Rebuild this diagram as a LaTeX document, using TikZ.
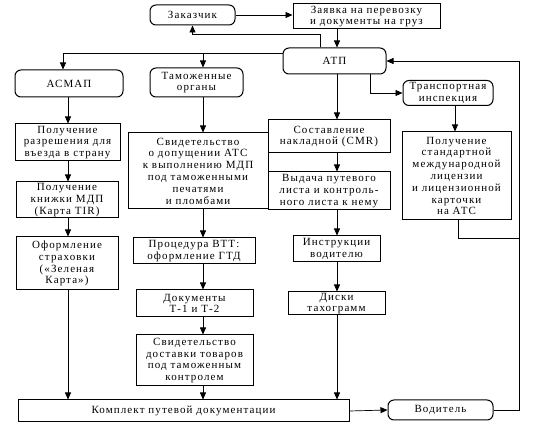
\documentclass[tikz,border=0pt]{standalone}
\usepackage{fontspec}
\setmainfont{Liberation Serif}[LetterSpace=10]
\usetikzlibrary{arrows.meta}
\begin{document}
\begin{tikzpicture}[x=1pt,y=-1pt,
  box/.style={draw, line width=1pt, align=center, inner sep=0.5pt, font=\fontsize{11}{11.8}\selectfont},
  rbox/.style={box, rounded corners=6pt},
  conn/.style={line width=0.7pt},
  arr/.style={conn, -{Triangle[length=7pt,width=6pt]}}]
\useasboundingbox (0,0) rectangle (536,430);
% column x positions
\coordinate (X1) at (68,0);
\coordinate (XA) at (63,0);
\coordinate (X2) at (203,0);
\coordinate (X3) at (337,0);
\coordinate (XT) at (320,0);
\coordinate (XI) at (370,0);
\coordinate (X4) at (455,0);
\coordinate (X5) at (458,0);
\coordinate (XR) at (519,0);
\coordinate (YT) at (0,34);
\coordinate (YL) at (0,53);
\coordinate (Y5) at (0,238);

\node[rbox, minimum width=85pt, minimum height=20pt] (zak) at (192.5,15) {Заказчик};
\node[box, minimum width=147pt, minimum height=25pt] (zay) at (366.5,16.5) {Заявка на перевозку\\и документы на груз};
\node[rbox, minimum width=103pt, minimum height=26pt] (atp) at (334.5,61) {АТП};
\node[rbox, minimum width=108pt, minimum height=27pt] (asmap) at (69,83.5) {АСМАП};
\node[rbox, minimum width=93pt, minimum height=29pt] (tam) at (196.5,82.5) {Таможенные\\органы};
\node[rbox, minimum width=90pt, minimum height=25pt] (ti) at (448,93) {Транспортная\\инспекция};

\node[box, minimum width=105pt, minimum height=37pt] (c1a) at (67.5,142.5) {Получение\\разрешения для\\въезда в страну};
\node[box, minimum width=102pt, minimum height=36pt] (c1b) at (67,200) {Получение\\книжки МДП\\(Карта TIR)};
\node[box, minimum width=102pt, minimum height=53pt] (c1c) at (67,263.5) {Оформление\\страховки\\(«Зеленая\\Карта»)};

\node[box, minimum width=140pt, minimum height=76pt] (c2a) at (198,171) {Свидетельство\\о допущении АТС\\к выполнению МДП\\под таможенными\\печатями\\и пломбами};
\node[box, minimum width=122pt, minimum height=26pt] (c2b) at (194,251) {Процедура ВТТ:\\оформление ГТД};
\node[box, minimum width=117pt, minimum height=27pt] (c2c) at (194.5,303.5) {Документы\\Т-1 и Т-2};
\node[box, minimum width=117pt, minimum height=51pt] (c2d) at (194.5,360.5) {Свидетельство\\доставки товаров\\под таможенным\\контролем};

\node[box, minimum width=122pt, minimum height=33pt] (c3a) at (329,136.5) {Составление\\накладной (CMR)};
\node[box, minimum width=122pt, minimum height=38pt] (c3b) at (329,191) {Выдача путевого\\листа и контроль-\\ного листа к нему};
\node[box, minimum width=87pt, minimum height=26pt] (c3c) at (336.5,249) {Инструкции\\водителю};
\node[box, minimum width=97pt, minimum height=23pt] (c3d) at (336.5,303.5) {Диски\\тахограмм};

\node[box, minimum width=109pt, minimum height=88pt] (c4) at (456.5,176) {Получение\\стандартной\\международной\\лицензии\\и лицензионной\\карточки\\на АТС};

\node[box, minimum width=331pt, minimum height=22pt] (kom) at (183.5,411) {Комплект путевой документации};
\node[rbox, minimum width=105pt, minimum height=20pt] (vod) at (440.5,410) {Водитель};

% top connectors
\draw[arr] (zak.east) -- (zak.east -| zay.west);
\draw[arr] (zay.south -| X3) -- (atp.north -| X3);
\draw[arr] (atp.north -| XT) -- (XT |- YT) -| (zak.south);
\draw[arr] (atp.west |- YL) -| (asmap.north -| XA);
\draw[arr] (X2 |- YL) -- (tam.north -| X2);
\draw[arr] (atp.south -| XI) |- (ti.west);
\draw[arr] (ti.south -| X4) -- (c4.north -| X4);
\draw[conn] (c4.south -| X5) |- (XR |- Y5);
\draw[arr] (vod.east) -| (XR |- atp.east) -- (atp.east);

% column 1
\draw[arr] (asmap.south -| X1) -- (c1a.north -| X1);
\draw[arr] (c1a.south -| X1) -- (c1b.north -| X1);
\draw[arr] (c1b.south -| X1) -- (c1c.north -| X1);
\draw[arr] (c1c.south -| X1) -- (kom.north -| X1);
% column 2
\draw[arr] (tam.south -| X2) -- (c2a.north -| X2);
\draw[arr] (c2a.south -| X2) -- (c2b.north -| X2);
\draw[arr] (c2b.south -| X2) -- (c2c.north -| X2);
\draw[arr] (c2c.south -| X2) -- (c2d.north -| X2);
\draw[arr] (c2d.south -| X2) -- (kom.north -| X2);
% column 3
\draw[arr] (atp.south -| X3) -- (c3a.north -| X3);
\draw[arr] (c3a.south -| X3) -- (c3b.north -| X3);
\draw[arr] (c3b.south -| X3) -- (c3c.north -| X3);
\draw[arr] (c3c.south -| X3) -- (c3d.north -| X3);
\draw[arr] (c3d.south -| X3) -- (kom.north -| X3);
% bottom
\draw[arr] (kom.east) -- (vod.west);
\end{tikzpicture}
\end{document}
